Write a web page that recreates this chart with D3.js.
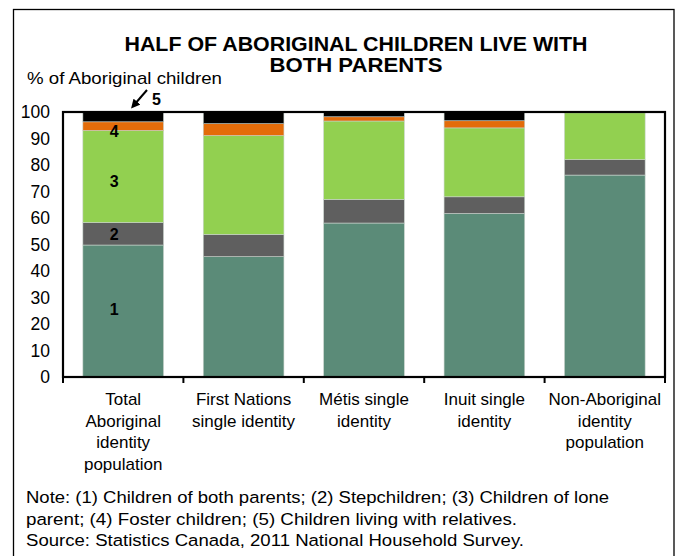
<!DOCTYPE html>
<html>
<head>
<meta charset="utf-8">
<script src="https://cdn.jsdelivr.net/npm/d3@7"></script>
<style>
  body { margin: 0; background: #fff; }
  svg { font-family: "Liberation Sans", Arial, sans-serif; }
</style>
</head>
<body>
<svg id="chart"></svg>
<script>
const categories = ["Total", "First Nations", "Metis", "Inuit", "Non-Aboriginal"];
const categoryLines = [
  ["Total", "Aboriginal", "identity", "population"],
  ["First Nations", "single identity"],
  ["Métis single", "identity"],
  ["Inuit single", "identity"],
  ["Non-Aboriginal", "identity", "population"]
];
const seriesKeys = ["both", "step", "lone", "foster", "relatives"];
const bothParents = [49.8, 45.4, 58.1, 61.7, 76.2];
const stepchildren = [8.5, 8.4, 8.9, 6.3, 5.8];
const loneParent = [34.7, 37.3, 29.6, 26.0, 17.7];
const fosterChildren = [3.3, 4.5, 1.6, 2.7, 0.2];
const withRelatives = [3.7, 4.4, 1.8, 3.3, 0.1];
const yTicks = [0, 10, 20, 30, 40, 50, 60, 70, 80, 90, 100];
const segmentLabels = ["1", "2", "3", "4"];
const titleLines = ["HALF OF ABORIGINAL CHILDREN LIVE WITH", "BOTH PARENTS"];
const noteLines = [
  "Note: (1) Children of both parents; (2) Stepchildren; (3) Children of lone",
  "parent; (4) Foster children; (5) Children living with relatives.",
  "Source: Statistics Canada, 2011 National Household Survey."
];

const w = 678;
const h = 556;
const colors = ["#5b8b78", "#5f5f5f", "#92d050", "#e36c0a", "#000000"];

const rows = categories.map((c, i) => ({
  cat: c,
  both: bothParents[i],
  step: stepchildren[i],
  lone: loneParent[i],
  foster: fosterChildren[i],
  relatives: withRelatives[i]
}));

const svg = d3.select("#chart").attr("width", w).attr("height", h);

// outer frame
svg.append("rect")
  .attr("x", 13.5).attr("y", 9.5)
  .attr("width", 660.5).attr("height", 560)
  .attr("fill", "none").attr("stroke", "#000").attr("stroke-width", 1.3);

const pLeft = 63, pRight = 665, pTop = 112, pBottom = 377;

const x = d3.scaleBand()
  .domain(categories)
  .range([pLeft, pRight])
  .paddingInner(0.33)
  .paddingOuter(0.165);

const y = d3.scaleLinear().domain([0, 100]).range([pBottom, pTop]);

const stacked = d3.stack().keys(seriesKeys)(rows);

svg.append("g")
  .selectAll("g")
  .data(stacked)
  .enter()
  .append("g")
  .attr("fill", (d, i) => colors[i])
  .selectAll("rect")
  .data((d) => d)
  .enter()
  .append("rect")
  .attr("x", (d) => x(d.data.cat))
  .attr("width", x.bandwidth())
  .attr("y", (d) => y(d[1]))
  .attr("height", (d) => y(d[0]) - y(d[1]))
  .attr("stroke", "#c9d3cc")
  .attr("stroke-width", 0.6);

// plot frame
svg.append("rect")
  .attr("x", pLeft).attr("y", pTop)
  .attr("width", pRight - pLeft).attr("height", pBottom - pTop)
  .attr("fill", "none").attr("stroke", "#000").attr("stroke-width", 2.2);

// y axis labels
const yAxis = d3.axisLeft(y).tickValues(yTicks).tickSize(0).tickPadding(13);
const yg = svg.append("g").attr("transform", `translate(${pLeft}, 0)`).call(yAxis);
yg.select(".domain").remove();
yg.selectAll("text")
  .attr("font-size", 17.5)
  .attr("font-family", "Liberation Sans, Arial, sans-serif")
  .attr("fill", "#000");

// x tick marks between categories
svg.append("g")
  .selectAll("line")
  .data(d3.range(categories.length + 1))
  .enter()
  .append("line")
  .attr("x1", (i) => pLeft + i * x.step())
  .attr("x2", (i) => pLeft + i * x.step())
  .attr("y1", pBottom)
  .attr("y2", pBottom + 6)
  .attr("stroke", "#000")
  .attr("stroke-width", 2);

// category labels
const catText = svg.append("g")
  .selectAll("text")
  .data(categoryLines)
  .enter()
  .append("text")
  .attr("text-anchor", "middle")
  .attr("font-size", 17)
  .attr("fill", "#000");

catText.each(function (lines, i) {
  const cx = x(categories[i]) + x.bandwidth() / 2;
  d3.select(this)
    .selectAll("tspan")
    .data(lines)
    .enter()
    .append("tspan")
    .attr("x", cx)
    .attr("y", (d, j) => 405 + j * 21.6)
    .text((d) => d);
});

// segment labels on first bar
const first = categories[0];
const labelX = x(first) + x.bandwidth() / 2 - 9;
segmentLabels.forEach((lab, k) => {
  const seg = stacked[k][0];
  const offs = [-2, 0, 4, 5];
  svg.append("text")
    .attr("x", labelX)
    .attr("y", y((seg[0] + seg[1]) / 2) + 6 + offs[k])
    .attr("text-anchor", "middle")
    .attr("font-size", 16)
    .attr("font-weight", "bold")
    .text(lab);
});

// label 5 with arrow
svg.append("defs").append("marker")
  .attr("id", "arrow")
  .attr("viewBox", "0 0 10 10")
  .attr("refX", 5).attr("refY", 5)
  .attr("markerWidth", 4.5).attr("markerHeight", 4.5)
  .attr("orient", "auto")
  .append("path")
  .attr("d", "M0,0 L10,5 L0,10 z")
  .attr("fill", "#000");

svg.append("line")
  .attr("x1", 147).attr("y1", 90)
  .attr("x2", 134).attr("y2", 105)
  .attr("stroke", "#000").attr("stroke-width", 2)
  .attr("marker-end", "url(#arrow)");

svg.append("text")
  .attr("x", 152).attr("y", 105)
  .attr("font-size", 16)
  .attr("font-weight", "bold")
  .text("5");

// title
const title = svg.append("text")
  .attr("text-anchor", "middle")
  .attr("font-size", 19.5)
  .attr("font-weight", "bold");
const titleW = [463, 173];
titleLines.forEach((t, i) => {
  title.append("tspan")
    .attr("x", 356).attr("y", 51 + i * 21)
    .attr("textLength", titleW[i])
    .attr("lengthAdjust", "spacingAndGlyphs")
    .text(t);
});

// y axis title
svg.append("text")
  .attr("x", 27).attr("y", 84)
  .attr("font-size", 17)
  .attr("textLength", 195)
  .attr("lengthAdjust", "spacingAndGlyphs")
  .text("% of Aboriginal children");

// notes
const noteW = [583, 491, 498];
svg.append("g")
  .selectAll("text")
  .data(noteLines)
  .enter()
  .append("text")
  .attr("x", 26)
  .attr("y", (d, i) => 503 + i * 21.5)
  .attr("font-size", 16.3)
  .attr("textLength", (d, i) => noteW[i])
  .attr("lengthAdjust", "spacingAndGlyphs")
  .text((d) => d);
</script>
</body>
</html>
